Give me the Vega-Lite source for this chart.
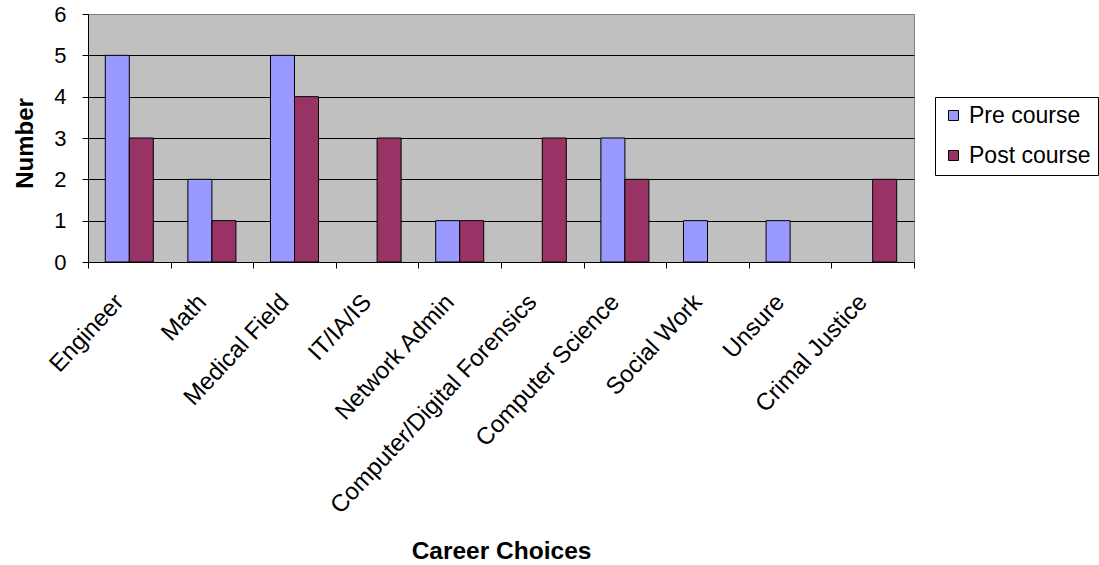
{
  "$schema": "https://vega.github.io/schema/vega-lite/v6.json",
  "width": 826,
  "height": 248,
  "autosize": {"type": "none"},
  "padding": {"left": 88, "top": 14, "right": 185, "bottom": 303},
  "background": "white",
  "config": {
    "font": "Liberation Sans",
    "view": {"fill": "#C0C0C0", "stroke": "#808080", "strokeWidth": 1},
    "axis": {"domainColor": "black", "tickColor": "black", "labelColor": "black", "titleColor": "black"}
  },
  "data": {
    "values": [
      {"career": "Engineer", "course": "Pre course", "number": 5},
      {"career": "Engineer", "course": "Post course", "number": 3},
      {"career": "Math", "course": "Pre course", "number": 2},
      {"career": "Math", "course": "Post course", "number": 1},
      {"career": "Medical Field", "course": "Pre course", "number": 5},
      {"career": "Medical Field", "course": "Post course", "number": 4},
      {"career": "IT/IA/IS", "course": "Post course", "number": 3},
      {"career": "Network Admin", "course": "Pre course", "number": 1},
      {"career": "Network Admin", "course": "Post course", "number": 1},
      {"career": "Computer/Digital Forensics", "course": "Post course", "number": 3},
      {"career": "Computer Science", "course": "Pre course", "number": 3},
      {"career": "Computer Science", "course": "Post course", "number": 2},
      {"career": "Social Work", "course": "Pre course", "number": 1},
      {"career": "Unsure", "course": "Pre course", "number": 1},
      {"career": "Crimal Justice", "course": "Post course", "number": 2}
    ]
  },
  "mark": {"type": "bar", "stroke": "black", "strokeWidth": 1},
  "encoding": {
    "x": {
      "field": "career",
      "type": "nominal",
      "sort": null,
      "scale": {
        "domain": ["Engineer", "Math", "Medical Field", "IT/IA/IS", "Network Admin", "Computer/Digital Forensics", "Computer Science", "Social Work", "Unsure", "Crimal Justice"],
        "paddingInner": 0,
        "paddingOuter": 0
      },
      "axis": {
        "title": "Career Choices",
        "titleFontSize": 24.5,
        "titleFontWeight": "bold",
        "titleBaseline": "alphabetic",
        "titleY": 296,
        "labelAngle": -47,
        "labelAlign": "right",
        "labelBaseline": "middle",
        "labelFontSize": 24,
        "labelPadding": 30,
        "labelOffset": -10,
        "tickSize": 6,
        "tickBand": "extent",
        "labelLimit": 500
      }
    },
    "xOffset": {
      "field": "course",
      "type": "nominal",
      "scale": {"domain": ["Pre course", "Post course"], "paddingInner": 0, "paddingOuter": 0.72}
    },
    "y": {
      "field": "number",
      "type": "quantitative",
      "scale": {"domain": [0, 6], "nice": false},
      "axis": {
        "title": "Number",
        "titleFontSize": 24,
        "titleFontWeight": "bold",
        "titleBaseline": "alphabetic",
        "titleX": -56,
        "titleY": 129,
        "values": [0, 1, 2, 3, 4, 5, 6],
        "labelFontSize": 22,
        "labelPadding": 16,
        "tickSize": 6,
        "grid": true,
        "gridColor": {"condition": {"test": "datum.value === 6", "value": "#808080"}, "value": "black"},
        "gridWidth": 1
      }
    },
    "color": {
      "field": "course",
      "type": "nominal",
      "scale": {"domain": ["Pre course", "Post course"], "range": ["#9999FF", "#993366"]},
      "legend": {
        "title": null,
        "orient": "none",
        "legendX": 847,
        "legendY": 83,
        "symbolType": "square",
        "symbolSize": 100,
        "symbolStrokeColor": "black",
        "symbolStrokeWidth": 1,
        "labelFontSize": 23,
        "labelColor": "black",
        "labelOffset": 4,
        "rowPadding": 16,
        "padding": 7,
        "strokeColor": "black",
        "fillColor": "white"
      }
    }
  }
}
